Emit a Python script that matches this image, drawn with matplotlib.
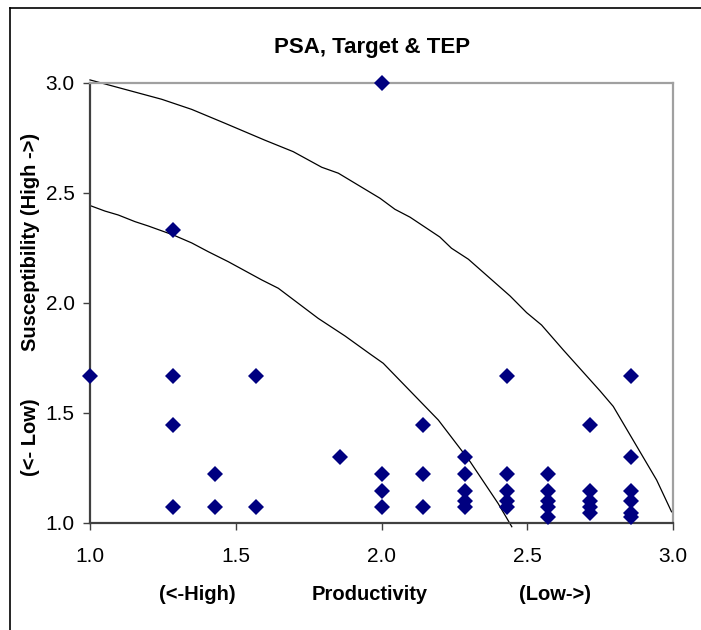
import matplotlib.pyplot as plt
from matplotlib.lines import Line2D

plt.rcParams['font.family'] = ['Liberation Sans', 'DejaVu Sans']

# scored stocks: productivity (x) vs susceptibility (y)
productivity = [1.0,
                1.286, 1.286, 1.286, 1.286,
                1.429, 1.429,
                1.571, 1.571,
                1.857,
                2.0, 2.0, 2.0, 2.0,
                2.143, 2.143, 2.143,
                2.286, 2.286, 2.286, 2.286, 2.286,
                2.429, 2.429, 2.429, 2.429, 2.429,
                2.571, 2.571, 2.571, 2.571, 2.571,
                2.714, 2.714, 2.714, 2.714, 2.714,
                2.857, 2.857, 2.857, 2.857, 2.857, 2.857]
susceptibility = [1.667,
                  2.333, 1.667, 1.444, 1.071,
                  1.222, 1.071,
                  1.667, 1.071,
                  1.3,
                  3.0, 1.222, 1.144, 1.071,
                  1.444, 1.222, 1.071,
                  1.3, 1.222, 1.144, 1.1, 1.071,
                  1.667, 1.222, 1.144, 1.1, 1.071,
                  1.222, 1.144, 1.1, 1.071, 1.026,
                  1.444, 1.144, 1.1, 1.071, 1.044,
                  1.667, 1.3, 1.144, 1.1, 1.044, 1.026]

# target and TEP boundary lines
outer_x = [1.0, 1.246, 1.349, 1.463, 1.6, 1.697, 1.795, 1.852, 1.995, 2.046,
           2.098, 2.2, 2.24, 2.298, 2.441, 2.498, 2.549, 2.624, 2.75, 2.795,
           2.944, 2.995]
outer_y = [3.014, 2.926, 2.88, 2.817, 2.74, 2.688, 2.617, 2.59, 2.476, 2.426,
           2.39, 2.30, 2.249, 2.199, 2.032, 1.956, 1.9, 1.786, 1.60, 1.53,
           1.195, 1.051]
inner_x = [1.0, 1.051, 1.097, 1.154, 1.2, 1.286, 1.349, 1.406, 1.474, 1.589,
           1.646, 1.783, 1.875, 1.961, 2.006, 2.195, 2.304, 2.40, 2.447]
inner_y = [2.443, 2.418, 2.40, 2.37, 2.35, 2.309, 2.273, 2.233, 2.188, 2.105,
           2.067, 1.93, 1.85, 1.768, 1.726, 1.468, 1.279, 1.089, 0.983]

W, H = 701, 630
fig = plt.figure(figsize=(W / 100, H / 100), dpi=100)
ax = fig.add_axes([90 / W, 1 - 523 / H, (673 - 90) / W, (523 - 83) / H])

ax.plot(outer_x, outer_y, color='black', linewidth=0.9, clip_on=False)
ax.plot(inner_x, inner_y, color='black', linewidth=0.9, clip_on=False)
ax.plot(productivity, susceptibility, linestyle='none', marker='D',
        markersize=8.3, color='#000080', markeredgewidth=0, clip_on=False,
        zorder=5)

ax.set_xlim(1.0, 3.0)
ax.set_ylim(1.0, 3.0)
ax.set_xticks([1.0, 1.5, 2.0, 2.5, 3.0])
ax.set_yticks([1.0, 1.5, 2.0, 2.5, 3.0])
ax.xaxis.set_major_formatter(lambda v, p: f"{v:.1f}")
ax.yaxis.set_major_formatter(lambda v, p: f"{v:.1f}")
ax.tick_params(direction='out', length=5, width=1, color='#404040',
               labelsize=15, pad=6)
ax.tick_params(axis='x', pad=12)

for side in ['left', 'bottom']:
    ax.spines[side].set_color('#404040')
    ax.spines[side].set_linewidth(1.6)
for side in ['top', 'right']:
    ax.spines[side].set_color('#a0a0a0')
    ax.spines[side].set_linewidth(1.6)

fig.text(372 / W, 1 - 47 / H, "PSA, Target & TEP", ha='center', va='center',
         fontsize=16, fontweight='bold')
fig.text(197 / W, 1 - 594 / H, "(<-High)", ha='center', va='center',
         fontsize=14.5, fontweight='bold')
fig.text(370 / W, 1 - 594 / H, "Productivity", ha='center', va='center',
         fontsize=14.5, fontweight='bold')
fig.text(555 / W, 1 - 594 / H, "(Low->)", ha='center', va='center',
         fontsize=14.5, fontweight='bold')
fig.text(31 / W, 1 - 437 / H, "(<- Low)", ha='center', va='center',
         rotation=90, fontsize=14.5, fontweight='bold')
fig.text(31 / W, 1 - 242 / H, "Susceptibility (High ->)", ha='center',
         va='center', rotation=90, fontsize=14.5, fontweight='bold')

# outer chart border (runs off the right and bottom edges)
fig.add_artist(Line2D([10 / W, 10 / W], [0, 1 - 8 / H], color='black',
                      linewidth=1.2, transform=fig.transFigure))
fig.add_artist(Line2D([10 / W, 1], [1 - 8 / H, 1 - 8 / H], color='black',
                      linewidth=1.2, transform=fig.transFigure))

fig.savefig("out.png", dpi=100)
